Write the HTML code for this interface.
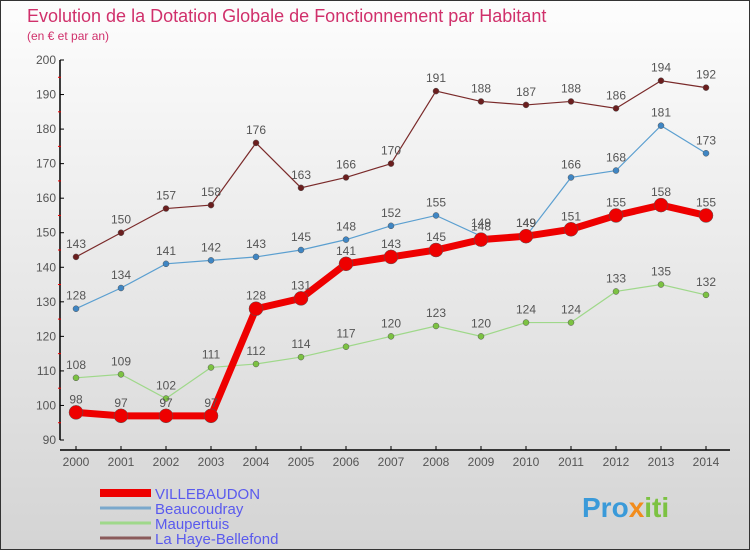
<!DOCTYPE html>
<html><head><meta charset="utf-8"><style>
body{margin:0;width:750px;height:550px;overflow:hidden}
svg{display:block;font-family:"Liberation Sans",sans-serif}
</style></head><body>
<svg id="c" width="750" height="550">
<defs><linearGradient id="bg" x1="0" y1="0" x2="0" y2="1"><stop offset="0" stop-color="#fdfdfd"/><stop offset="1" stop-color="#d4d4d4"/></linearGradient></defs>
<rect x="0.5" y="0.5" width="749" height="549" fill="url(#bg)" stroke="#333"/>
<text x="27" y="22" font-size="18" fill="#d0306b">Evolution de la Dotation Globale de Fonctionnement par Habitant</text>
<text x="27" y="40" font-size="12" fill="#d0306b">(en € et par an)</text>
<g id="axes"></g><g id="series"></g><g id="legend"></g>
<text x="582" y="517" font-size="28" font-weight="bold" fill="#3a9ad9">Pro<tspan fill="#f28c1c">x</tspan><tspan fill="#7cc242">iti</tspan></text>
</svg>
<script>
const years=[2000,2001,2002,2003,2004,2005,2006,2007,2008,2009,2010,2011,2012,2013,2014];
const yTicks=[90,100,110,120,130,140,150,160,170,180,190,200];
const villebaudon=[98,97,97,97,128,131,141,143,145,148,149,151,155,158,155];
const beaucoudray=[128,134,141,142,143,145,148,152,155,149,149,166,168,181,173];
const maupertuis=[108,109,102,111,112,114,117,120,123,120,124,124,133,135,132];
const layeBellefond=[143,150,157,158,176,163,166,170,191,188,187,188,186,194,192];
const NS="http://www.w3.org/2000/svg";
const X=i=>76+i*45, Y=v=>440-(v-90)*3.4545;
function mk(t,a,p){const e=document.createElementNS(NS,t);for(const k in a)e.setAttribute(k,a[k]);p.appendChild(e);return e;}
const ax=document.getElementById('axes');
let e=mk('line',{x1:60,y1:60,x2:60,y2:440,stroke:'#000','stroke-width':1.5},ax);

e=mk('line',{x1:60,y1:450,x2:730,y2:450,stroke:'#000','stroke-width':1.5},ax);

yTicks.forEach((v,i)=>{mk('line',{x1:60,y1:Y(v),x2:64,y2:Y(v),stroke:'#000'},ax);
 if(i<yTicks.length-1)mk('line',{x1:58,y1:Y(v+5),x2:61,y2:Y(v+5),stroke:'#e00'},ax);
 const t=mk('text',{x:56,y:Y(v)+4,'font-size':12,'text-anchor':'end',fill:'#555'},ax);t.textContent=v;
 });
years.forEach((y,i)=>{mk('line',{x1:X(i),y1:446,x2:X(i),y2:450,stroke:'#000'},ax);
 const t=mk('text',{x:X(i),y:466,'font-size':12,'text-anchor':'middle',fill:'#555'},ax);t.textContent=y;
 });
const sg=document.getElementById('series');
const S=[[layeBellefond,'#7a2a2a','#6b1e1e',1.2,3,'la-haye-bellefond'],[beaucoudray,'#5b9fd0','#3f86c4',1.2,3,'beaucoudray'],[maupertuis,'#9fd88a','#7cc242',1.2,3,'maupertuis'],[villebaudon,'#ee0000','#ee0000',7,7,'villebaudon']];
S.forEach(([d,c,mc,w,r,n])=>{
 const p=mk('polyline',{points:d.map((v,i)=>X(i)+','+Y(v)).join(' '),fill:'none',stroke:c,'stroke-width':w},sg);
 
 d.forEach((v,i)=>{const m=mk('circle',{cx:X(i),cy:Y(v),r:r,fill:mc,stroke:'#555','stroke-width':0.5},sg);
  
  const t=mk('text',{x:X(i),y:Y(v)-9,'font-size':12,'text-anchor':'middle',fill:'#555'},sg);t.textContent=v;
  });
});
const lg=document.getElementById('legend');
[['VILLEBAUDON','#ee0000',8],['Beaucoudray','#7aa8cc',3],['Maupertuis','#9fd88a',3],['La Haye-Bellefond','#8a5a5a',3]].forEach(([l,c,w],i)=>{
 const y=493+i*15;
 const ln=mk('line',{x1:100,y1:y,x2:151,y2:y,stroke:c,'stroke-width':w},lg);
 
 const t=mk('text',{x:155,y:y+6,'font-size':15,fill:'#5a5aee'},lg);t.textContent=l;
 });
</script>
</body></html>
